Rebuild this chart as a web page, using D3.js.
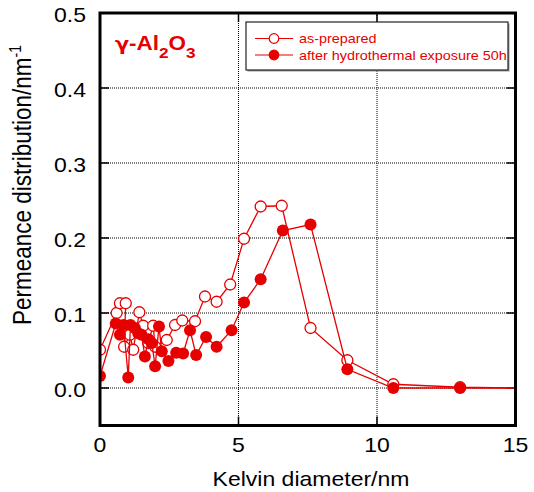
<!DOCTYPE html>
<html>
<head>
<meta charset="utf-8">
<script src="https://cdn.jsdelivr.net/npm/d3@7"></script>
<style>
  body { margin: 0; background: #fff; }
  text { font-family: "Liberation Sans", Arial, sans-serif; }
</style>
</head>
<body>
<div class="plot"></div>
<script>
// as-prepared (open circles)
const asPreparedX = [0, 0.6, 0.72, 0.93, 0.87, 1.08, 1.2, 1.42, 1.56, 1.74, 1.92, 1.99, 2.41, 2.71, 2.97, 3.43, 3.79, 4.21, 4.7, 5.2, 5.8, 6.56, 7.6, 8.93, 10.59, 13.0, 15.5];
const asPreparedY = [0.051, 0.100, 0.113, 0.113, 0.055, 0.071, 0.051, 0.101, 0.083, 0.060, 0.083, 0.055, 0.064, 0.084, 0.090, 0.089, 0.122, 0.115, 0.138, 0.199, 0.242, 0.243, 0.080, 0.037, 0.005, 0.001, 0.0];
// after hydrothermal exposure 50h (filled circles)
const exposedX = [0, 0.57, 0.72, 0.85, 1.02, 1.1, 1.26, 1.38, 1.5, 1.62, 1.75, 1.87, 1.99, 2.13, 2.23, 2.47, 2.75, 3.0, 3.25, 3.47, 3.83, 4.21, 4.75, 5.2, 5.8, 6.6, 7.6, 8.93, 10.59, 13.0, 15.5];
const exposedY = [0.016, 0.086, 0.071, 0.084, 0.014, 0.084, 0.080, 0.073, 0.071, 0.042, 0.065, 0.060, 0.029, 0.082, 0.049, 0.036, 0.047, 0.046, 0.077, 0.044, 0.068, 0.055, 0.077, 0.114, 0.145, 0.210, 0.218, 0.025, 0.0, 0.0, 0.0];

const xTicks = [0, 5, 10, 15];
const yTicks = [0.0, 0.1, 0.2, 0.3, 0.4, 0.5];
const seriesNames = ["as-prepared", "after hydrothermal exposure 50h"];

const red = "#e60000";
const stretch = 1.15; // the original picture is a bit wider than tall

const svg = d3.select(".plot")
    .append("svg")
        .attr("width", 534)
        .attr("height", 492);

const x = d3.scaleLinear().domain([0, 15]).range([100, 515.5]);
const y = d3.scaleLinear().domain([-0.05, 0.5]).range([425.5, 13]);
const [x0, x1] = x.range();
const [y0, y1] = y.range();

svg.append("defs").append("clipPath")
    .attr("id", "plotclip")
    .append("rect")
        .attr("x", x0).attr("y", y1)
        .attr("width", x1 - x0).attr("height", y0 - y1);

// dotted grid
svg.append("g").selectAll("line")
    .data(xTicks.filter(d => d > 0 && d < 15))
    .enter().append("line")
        .attr("x1", d => x(d)).attr("x2", d => x(d))
        .attr("y1", y1).attr("y2", y0)
        .attr("stroke", "#000").attr("stroke-width", 1)
        .attr("stroke-dasharray", "1,1");
svg.append("g").selectAll("line")
    .data(yTicks.filter(d => d < 0.5))
    .enter().append("line")
        .attr("x1", x0).attr("x2", x1)
        .attr("y1", d => y(d)).attr("y2", d => y(d))
        .attr("stroke", "#000").attr("stroke-width", 1)
        .attr("stroke-dasharray", "1,1");

// inward tick marks on all four sides
const tickLen = 9;
const ticks = svg.append("g").attr("stroke", "#000").attr("stroke-width", 1.5);
xTicks.filter(d => d > 0 && d < 15).forEach(d => {
    ticks.append("line").attr("x1", x(d)).attr("x2", x(d)).attr("y1", y0).attr("y2", y0 - tickLen);
    ticks.append("line").attr("x1", x(d)).attr("x2", x(d)).attr("y1", y1).attr("y2", y1 + tickLen);
});
yTicks.filter(d => d < 0.5).forEach(d => {
    ticks.append("line").attr("y1", y(d)).attr("y2", y(d)).attr("x1", x0).attr("x2", x0 + tickLen);
    ticks.append("line").attr("y1", y(d)).attr("y2", y(d)).attr("x1", x1).attr("x2", x1 - tickLen);
});

// tick labels
svg.append("g").selectAll("text")
    .data(yTicks)
    .enter().append("text")
        .attr("transform", d => `translate(86,${y(d) + 9}) scale(${stretch},1)`)
        .attr("text-anchor", "end")
        .style("font-size", "20px")
        .text(d => d.toFixed(1));
svg.append("g").selectAll("text")
    .data(xTicks)
    .enter().append("text")
        .attr("transform", d => `translate(${x(d)},452) scale(${stretch},1)`)
        .attr("text-anchor", "middle")
        .style("font-size", "20px")
        .text(d => d);

// axis titles
svg.append("text")
    .attr("transform", `translate(311,486) scale(${stretch},1)`)
    .attr("text-anchor", "middle")
    .style("font-size", "20px")
    .text("Kelvin diameter/nm");
const yTitle = svg.append("text")
    .attr("transform", `translate(31,185) scale(${stretch},1) rotate(-90)`)
    .attr("text-anchor", "middle")
    .style("font-size", "22.5px");
yTitle.append("tspan").text("Permeance distribution/nm");
yTitle.append("tspan").attr("dy", -9).style("font-size", "14px").text("-1");

// series
const line = d3.line().x(d => x(d[0])).y(d => y(d[1]));
const openPts = asPreparedX.map((d, i) => [d, asPreparedY[i]]);
const filledPts = exposedX.map((d, i) => [d, exposedY[i]]);
const data = svg.append("g").attr("clip-path", "url(#plotclip)");

data.append("path").datum(openPts)
    .attr("d", line).attr("fill", "none").attr("stroke", red).attr("stroke-width", 1.3);
data.append("g").selectAll("circle")
    .data(openPts.filter(d => d[0] <= 15))
    .enter().append("circle")
        .attr("cx", d => x(d[0])).attr("cy", d => y(d[1])).attr("r", 5.5)
        .attr("fill", "#fff").attr("stroke", red).attr("stroke-width", 1.3);

data.append("path").datum(filledPts)
    .attr("d", line).attr("fill", "none").attr("stroke", red).attr("stroke-width", 1.3);
data.append("g").selectAll("circle")
    .data(filledPts.filter(d => d[0] <= 15))
    .enter().append("circle")
        .attr("cx", d => x(d[0])).attr("cy", d => y(d[1])).attr("r", 6)
        .attr("fill", red);

// frame
svg.append("rect")
    .attr("x", x0).attr("y", y1)
    .attr("width", x1 - x0).attr("height", y0 - y1)
    .attr("fill", "none").attr("stroke", "#000").attr("stroke-width", 3);

// legend
const lg = svg.append("g").attr("transform", "translate(246,22)");
lg.append("rect").attr("x", 1.5).attr("y", 1.5).attr("width", 262).attr("height", 48).attr("fill", "#999");
lg.append("rect").attr("width", 262).attr("height", 48)
    .attr("fill", "#fff").attr("stroke", "#222").attr("stroke-width", 1.2);
seriesNames.forEach((name, i) => {
    const ly = 16.5 + i * 16.5;
    lg.append("line").attr("x1", 9).attr("x2", 47).attr("y1", ly).attr("y2", ly)
        .attr("stroke", red).attr("stroke-width", 1.2);
    lg.append("circle").attr("cx", 28).attr("cy", ly).attr("r", 4.8)
        .attr("fill", i === 0 ? "#fff" : red).attr("stroke", red).attr("stroke-width", 1.2);
    lg.append("text")
        .attr("transform", `translate(53,${ly + 4.5}) scale(${stretch},1)`)
        .style("font-size", "12.5px").attr("fill", red)
        .text(name);
});

// material label
const mat = svg.append("text")
    .attr("transform", `translate(115,50) scale(${stretch},1)`)
    .style("font-size", "19.5px").style("font-weight", "bold").attr("fill", red);
mat.append("tspan").style("font-family", "'DejaVu Sans', sans-serif").style("font-size", "18px").text("γ");
mat.append("tspan").text("-Al");
mat.append("tspan").attr("dy", 8).style("font-size", "15px").text("2");
mat.append("tspan").attr("dy", -8).text("O");
mat.append("tspan").attr("dy", 8).style("font-size", "15px").text("3");
</script>
</body>
</html>
